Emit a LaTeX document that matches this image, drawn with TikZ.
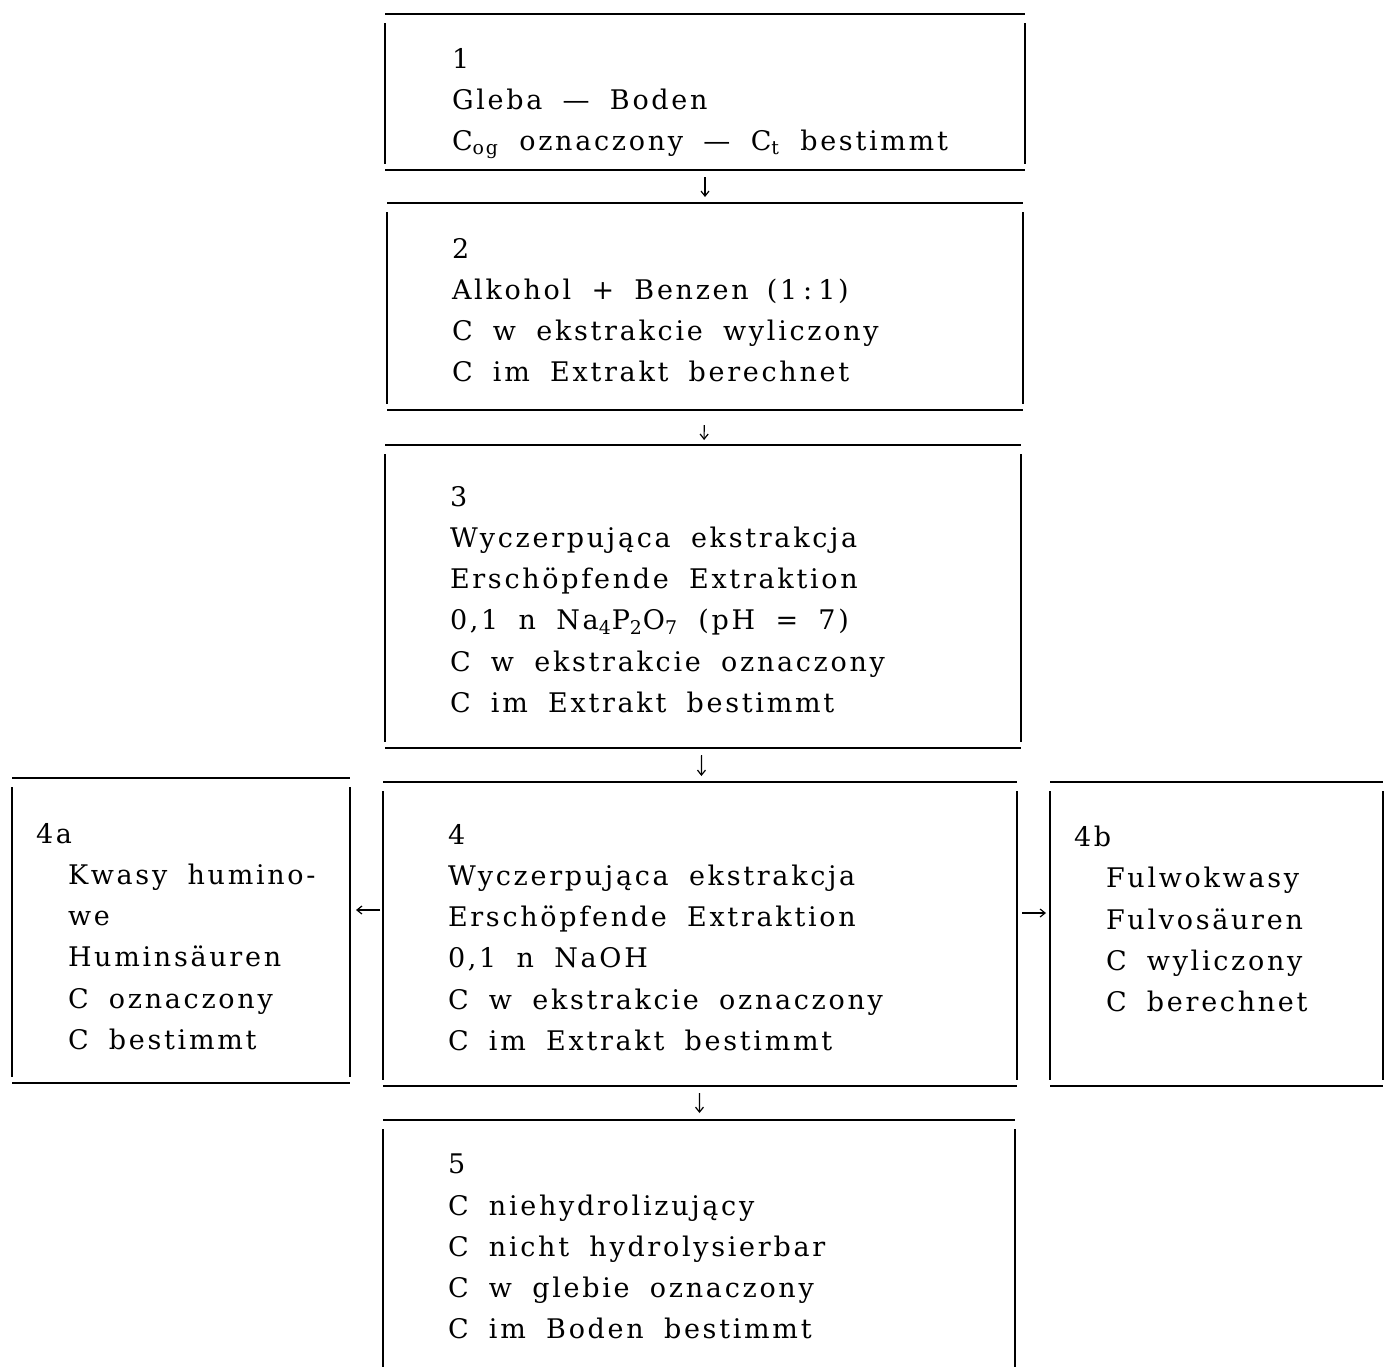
\documentclass[tikz,border=0pt]{standalone}
\usepackage{fontspec}
\setmainfont{DejaVu Serif}[LetterSpace=10,WordSpace=1.8]
\usepackage{tikz}
\usetikzlibrary{arrows.meta,positioning}

\tikzset{
  frm/.style={anchor=north west, inner sep=0pt, outer sep=0pt},
  txt/.style={anchor=north west, inner sep=0pt, align=left,
    font=\fontsize{13.5}{20.65}\selectfont},
  flow/.style={->, line width=0.6pt, >={Straight Barb[length=2.5pt,width=4pt]}}
}
\newcommand{\ind}{\hspace*{16pt}}

\begin{document}
\begin{tikzpicture}[x=0.5pt, y=-0.5pt, line width=1pt]
    \useasboundingbox (0,0) rectangle (1384,1366);

    % Frames
    \node[frm, minimum width=320pt, minimum height=78pt] (b1) at (385,14) {};
    \node[frm, minimum width=318pt, minimum height=103.5pt] (b2) at (387,203) {};
    \node[frm, minimum width=318pt, minimum height=151.5pt] (b3) at (385,445) {};
    \node[frm, minimum width=317pt, minimum height=152pt] (b4) at (383,782) {};
    \node[frm, minimum width=169pt, minimum height=152.5pt] (b4a) at (12,778) {};
    \node[frm, minimum width=166.5pt, minimum height=152pt] (b4b) at (1050,782) {};
    \node[frm, minimum width=316pt, minimum height=150pt] (b5) at (383,1120) {};

    \foreach \b in {b1,b2,b3,b4,b4a,b4b,b5}{
      \draw (\b.north west) -- (\b.north east);
      \draw (\b.south west) -- (\b.south east);
      \draw ([yshift=-4.5pt]\b.north west) -- ([yshift=3pt]\b.south west);
      \draw ([yshift=-4.5pt]\b.north east) -- ([yshift=3pt]\b.south east);
    }

    % Texts
    \node[txt] (t1) at (451,47) {1\\Gleba --- Boden\\C\textsubscript{og} oznaczony --- C\textsubscript{t} bestimmt};
    \node[txt] (t2) at (451,237) {2\\Alkohol + Benzen\hspace{9pt}(1\hspace{3pt}:\hspace{3pt}1)\\C w ekstrakcie wyliczony\\C im Extrakt berechnet};
    \node[txt] (t3) at (449,485) {3\\Wyczerpująca ekstrakcja\\Erschöpfende Extraktion\\0,1 n Na\textsubscript{4}P\textsubscript{2}O\textsubscript{7} (pH = 7)\\C w ekstrakcie oznaczony\\C im Extrakt bestimmt};
    \node[txt] (t4) at (447,823) {4\\Wyczerpująca ekstrakcja\\Erschöpfende Extraktion\\0,1 n NaOH\\C w ekstrakcie oznaczony\\C im Extrakt bestimmt};
    \node[txt] (t4a) at (35,822) {4a\\\ind Kwasy humino-\\\ind we\\\ind Huminsäuren\\\ind C oznaczony\\\ind C bestimmt};
    \node[txt] (t4b) at (1073,825) {4b\\\ind Fulwokwasy\\\ind Fulvosäuren\\\ind C wyliczony\\\ind C berechnet};
    \node[txt] (t5) at (447,1153) {5\\C niehydrolizujący\\C nicht hydrolysierbar\\C w glebie oznaczony\\C im Boden bestimmt};

    % Arrows
    \draw[flow, shorten <=3.5pt, shorten >=3pt] (b1) -- (b2);
    \draw[flow, shorten <=7.5pt, shorten >=2.5pt] (b2) -- (b3);
    \draw[flow, shorten <=3.5pt, shorten >=3pt] (b3) -- (b4);
    \draw[flow, shorten <=3.5pt, shorten >=3.5pt] (b4) -- (b5);
    \draw[flow, shorten <=1.5pt, shorten >=3pt] (b4.west |- 0,910) -- (b4a.east |- 0,910);
    \draw[flow, shorten <=2.5pt, shorten >=2pt] (b4.east |- 0,913) -- (b4b.west |- 0,913);
\end{tikzpicture}
\end{document}
